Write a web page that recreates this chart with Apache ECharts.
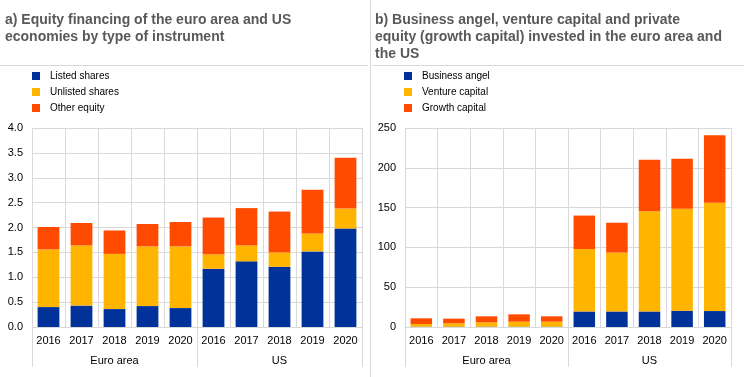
<!DOCTYPE html>
<html>
<head>
<meta charset="utf-8">
<script src="https://cdn.jsdelivr.net/npm/echarts@6/dist/echarts.min.js"></script>
<style>
  html, body { margin: 0; padding: 0; background: #fff; }
  #main { width: 744px; height: 377px; }
</style>
</head>
<body>
<div id="main"></div>
<script>
// tick labels / categories
const years = ['2016', '2017', '2018', '2019', '2020'];
const groups = ['Euro area', 'US'];

// panel a) percentage of GDP
const listedShares = [0.40, 0.43, 0.36, 0.42, 0.38, 1.17, 1.32, 1.21, 1.52, 1.98];
const unlistedShares = [1.16, 1.21, 1.11, 1.20, 1.24, 0.29, 0.32, 0.29, 0.36, 0.40];
const otherEquity = [0.45, 0.45, 0.47, 0.45, 0.49, 0.74, 0.75, 0.82, 0.88, 1.02];

// panel b) EUR billions
const businessAngel = [0.4, 0.4, 0.4, 0.4, 0.4, 19.5, 19.5, 19.5, 20.5, 20];
const ventureCapital = [3.4, 4.2, 5.5, 6.3, 6.3, 78.5, 74, 126, 128, 136];
const growthCapital = [7.1, 5.9, 7.5, 9.2, 6.7, 42, 37.5, 64.5, 63, 85];

const colors = ['#003299', '#ffb400', '#ff4b00'];
const gridColor = '#d9d9d9';
const font = 'Liberation Sans, Arial, sans-serif';

// one category per bar, label shows only the year
const cats = [];
groups.forEach(g => years.forEach(y => cats.push(g + '|' + y)));

const chart = echarts.init(document.getElementById('main'));

function yearAxis(gi) {
    return {
        type: 'category',
        gridIndex: gi,
        data: cats,
        axisLine: { lineStyle: { color: gridColor } },
        axisTick: { show: false },
        splitLine: { show: true, lineStyle: { color: gridColor } },
        axisLabel: {
            interval: 0,
            margin: 8,
            color: '#000',
            fontFamily: font,
            fontSize: 11,
            formatter: v => v.split('|')[1]
        }
    };
}

function groupAxis(gi) {
    return {
        type: 'category',
        gridIndex: gi,
        position: 'bottom',
        data: groups,
        axisLine: { show: false },
        axisTick: { show: true, length: 40, interval: 0, lineStyle: { color: gridColor } },
        axisLabel: {
            interval: 0,
            margin: 28,
            color: '#000',
            fontFamily: font,
            fontSize: 11
        }
    };
}

function valueAxis(gi, max, step, digits) {
    return {
        type: 'value',
        gridIndex: gi,
        min: 0,
        max: max,
        interval: step,
        axisLine: { show: false },
        axisTick: { show: false },
        splitLine: { lineStyle: { color: gridColor } },
        axisLabel: {
            margin: 9,
            color: '#000',
            fontFamily: font,
            fontSize: 11,
            formatter: v => v.toFixed(digits)
        }
    };
}

function bar(name, data, idx, gi) {
    return {
        name: name,
        type: 'bar',
        stack: 'p' + gi,
        xAxisIndex: gi * 2,
        yAxisIndex: gi,
        barWidth: '66%',
        itemStyle: { color: colors[idx] },
        data: data
    };
}

function legend(names, left) {
    return {
        orient: 'vertical',
        left: left,
        top: 66,
        icon: 'rect',
        itemWidth: 8,
        itemHeight: 8,
        itemGap: 6,
        selectedMode: false,
        data: names,
        textStyle: { color: '#000', fontFamily: font, fontSize: 10, padding: [0, 0, 0, 5] }
    };
}

const titleStyle = { color: '#595959', fontFamily: font, fontSize: 14, fontWeight: 'bold', lineHeight: 17 };

var option = {
    animation: false,
    title: [
        { text: 'a) Equity financing of the euro area and US\neconomies by type of instrument', left: 0, top: 7, textStyle: titleStyle },
        { text: 'b) Business angel, venture capital and private\nequity (growth capital) invested in the euro area and\nthe US', left: 370, top: 7, textStyle: titleStyle }
    ],
    legend: [
        legend(['Listed shares', 'Unlisted shares', 'Other equity'], 27),
        legend(['Business angel', 'Venture capital', 'Growth capital'], 399)
    ],
    grid: [
        { left: 32, right: 382, top: 128, bottom: 50 },
        { left: 405, right: 13, top: 128, bottom: 50 }
    ],
    xAxis: [yearAxis(0), groupAxis(0), yearAxis(1), groupAxis(1)],
    yAxis: [valueAxis(0, 4, 0.5, 1), valueAxis(1, 250, 50, 0)],
    series: [
        bar('Listed shares', listedShares, 0, 0),
        bar('Unlisted shares', unlistedShares, 1, 0),
        bar('Other equity', otherEquity, 2, 0),
        bar('Business angel', businessAngel, 0, 1),
        bar('Venture capital', ventureCapital, 1, 1),
        bar('Growth capital', growthCapital, 2, 1)
    ],
    graphic: [
        { type: 'line', shape: { x1: 0, y1: 65.5, x2: 368, y2: 65.5 }, style: { stroke: gridColor } },
        { type: 'line', shape: { x1: 372, y1: 65.5, x2: 744, y2: 65.5 }, style: { stroke: gridColor } },
        { type: 'line', shape: { x1: 370.5, y1: 0, x2: 370.5, y2: 377 }, style: { stroke: gridColor } }
    ]
};

chart.setOption(option);
</script>
</body>
</html>
